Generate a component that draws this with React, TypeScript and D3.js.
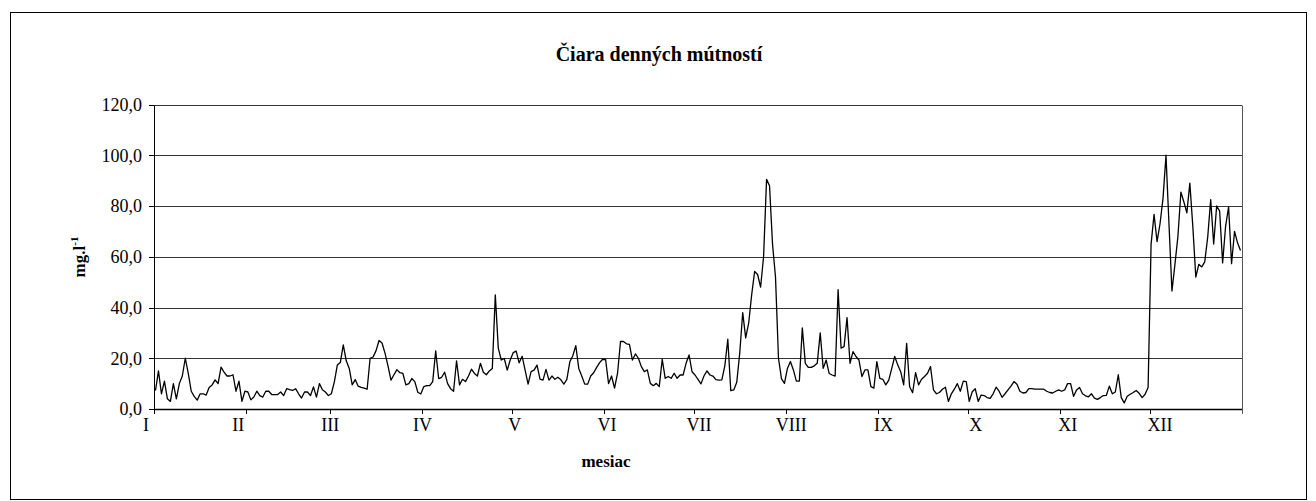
import React from 'react';
import * as d3 from 'd3';

const monthLabels = ['I', 'II', 'III', 'IV', 'V', 'VI', 'VII', 'VIII', 'IX', 'X', 'XI', 'XII'];
const monthDays = [31, 28, 31, 30, 31, 30, 31, 31, 30, 31, 30, 31];
const yTicks = [0, 20, 40, 60, 80, 100, 120];

const jan = [7.3, 15, 6, 11, 4, 3, 10, 4, 10, 13, 20, 14, 7, 5, 3.5, 6, 6, 5.5, 8.5, 9.5, 11.5, 10, 16.5, 14.5, 13, 13, 13.5, 7, 11, 3, 7];
const feb = [6.7, 3.6, 4.7, 7, 5.3, 4.7, 7, 7, 5.7, 5.7, 5.7, 6.7, 5.3, 8, 7.6, 7.3, 8, 6, 4.3, 6.7, 6.7, 5.3, 8.7, 4.7, 10, 7.6, 6.7, 5.3];
const mar = [6, 10.7, 17.3, 18.3, 25.3, 19, 16, 9.5, 11.6, 9, 8.5, 8.2, 7.8, 20, 20.5, 23, 27, 26, 22, 17, 11.4, 13.5, 15.5, 14.3, 14, 9.5, 10, 12, 10.8, 6.6, 5.9];
const apr = [8.8, 9.2, 9.2, 10.8, 22.9, 12, 12.5, 14.5, 10, 8, 7, 19, 9.5, 11.7, 10.8, 13, 15.7, 14, 13, 18, 14.5, 13.5, 15, 16, 45, 24, 19.3, 19.9, 15.3, 19.3];
const may = [22.2, 22.8, 18.2, 20.8, 15.3, 9.8, 14.7, 15.3, 17.3, 11.8, 11.4, 15.6, 11.4, 13, 11.7, 12.5, 11.5, 9.8, 11.7, 18.6, 21, 25, 16, 13, 9.8, 9.8, 13, 14.3, 16.4, 18.3, 19.6];
const jun = [19.5, 10, 13, 8.2, 14, 26.6, 26.6, 25.7, 25.5, 19.3, 21.7, 20, 16.7, 14.7, 15.4, 10.1, 9.2, 10.1, 8.8, 19.6, 12.1, 12.8, 12.1, 14.1, 12.1, 13.4, 13.4, 18, 21.3, 14.7];
const jul = [13.4, 11.7, 9.9, 13, 15, 13.4, 13, 11.6, 11.4, 11.5, 17, 27.5, 7.2, 7.5, 10.5, 22, 38, 28, 33.8, 45, 54.2, 53, 48, 60, 90.5, 88, 65, 52, 20, 12, 10.1];
const aug = [16, 18.7, 15.4, 11, 11, 32, 18, 16.4, 16.4, 17, 18, 30, 16, 19.3, 14, 13.4, 13, 47, 24, 24.6, 36, 18, 22.6, 20.7, 19.3, 12.8, 15.4, 15.4, 8.8, 8.2, 18.7];
const sep = [12.1, 11.7, 9.5, 11.4, 16, 20.7, 17.4, 14.7, 9.5, 25.9, 8.8, 6.4, 14.3, 9.5, 11.7, 12.8, 14.1, 16.7, 7.5, 6, 6.5, 7.8, 8.6, 3, 6, 7.8, 10, 7, 11, 10.8];
const oct = [3, 6.8, 8, 3, 5.5, 5.3, 4.5, 4.2, 6, 8.6, 7, 4.6, 6, 7.5, 9, 10.8, 9.8, 7, 6.3, 6.5, 8, 8, 7.8, 7.8, 7.8, 7.8, 7, 6.5, 6.3, 7, 7.5];
const nov = [7, 7.5, 10, 10, 5, 7.5, 8.5, 6, 5.2, 4.8, 6, 4.3, 3.8, 4.5, 5.3, 5.4, 9, 6, 6.7, 13.5, 4.5, 2.4, 5, 5.8, 6.5, 7.3, 6.2, 4.5, 5.8, 8.5];
const dec = [65, 76.7, 66, 73, 83, 100, 73, 46.5, 57, 68, 85.5, 81.6, 77.3, 89, 72, 52, 57, 56, 58, 67.8, 82.5, 65, 80, 78, 57.6, 72, 79.6, 57.3, 70, 65.5, 62.5];

const FONT = "'Liberation Serif', 'Times New Roman', serif";

export default function App() {
  const W = 1316;
  const H = 501;
  const values: number[] = [...jan, ...feb, ...mar, ...apr, ...may, ...jun, ...jul, ...aug, ...sep, ...oct, ...nov, ...dec];
  const left = 154;
  const right = 1242;
  const top = 104.5;
  const bottom = 409;
  const x = d3.scaleLinear().domain([0, values.length]).range([left, right]);
  const y = d3.scaleLinear().domain([0, 120]).range([bottom, top]);
  const labelX = d3.scaleLinear().domain([0, 11]).range([146, 1160]);
  const starts: number[] = [];
  let acc = 0;
  monthDays.forEach((d) => { starts.push(acc); acc += d; });
  const line = d3.line<number>().x((_, i) => x(i + 0.5)).y((d) => y(d));
  const fmt = (v: number) => d3.format('.1f')(v).replace('.', ',');

  return (
    <svg width={W} height={H} style={{ position: 'absolute', left: 0, top: 0, background: '#fff' }} fontFamily={FONT}>
      <rect x={10.5} y={12.5} width={1296} height={487} fill="#fff" stroke="#000" strokeWidth={1} />
      <text x={659} y={61} textAnchor="middle" fontSize={20} fontWeight="bold">Čiara denných mútností</text>
      {yTicks.filter((t) => t > 0).map((t) => (
        <line key={'g' + t} x1={left} x2={right} y1={Math.round(y(t)) + 0.5} y2={Math.round(y(t)) + 0.5} stroke="#333" strokeWidth={1} />
      ))}
      <line x1={right + 0.5} x2={right + 0.5} y1={Math.round(top) + 0.5} y2={bottom + 5} stroke="#555" strokeWidth={1} />
      <path d={line(values) || ''} fill="none" stroke="#000" strokeWidth={1.3} strokeLinejoin="round" />
      <line x1={left + 0.5} x2={left + 0.5} y1={Math.round(top) + 0.5} y2={bottom + 0.5} stroke="#000" strokeWidth={1} />
      <line x1={left} x2={right} y1={bottom + 0.5} y2={bottom + 0.5} stroke="#000" strokeWidth={1.3} />
      {yTicks.map((t) => (
        <g key={'y' + t}>
          <line x1={left - 5} x2={left} y1={Math.round(y(t)) + 0.5} y2={Math.round(y(t)) + 0.5} stroke="#000" />
          <text x={142} y={y(t)} dy="0.35em" textAnchor="end" fontSize={18}>{fmt(t)}</text>
        </g>
      ))}
      {starts.map((s, i) => (
        <line key={'m' + i} x1={Math.round(x(s)) + 0.5} x2={Math.round(x(s)) + 0.5} y1={bottom} y2={bottom + 5} stroke="#000" />
      ))}
      {monthLabels.map((m, i) => (
        <text key={'l' + i} x={labelX(i)} y={431} textAnchor="middle" fontSize={18}>{m}</text>
      ))}
      <text x={606} y={467} textAnchor="middle" fontSize={17} fontWeight="bold">mesiac</text>
      <text transform={`translate(85, 257) rotate(-90)`} textAnchor="middle" fontSize={17} fontWeight="bold">
        mg.l<tspan dy={-7} fontSize={11}>-1</tspan>
      </text>
    </svg>
  );
}
